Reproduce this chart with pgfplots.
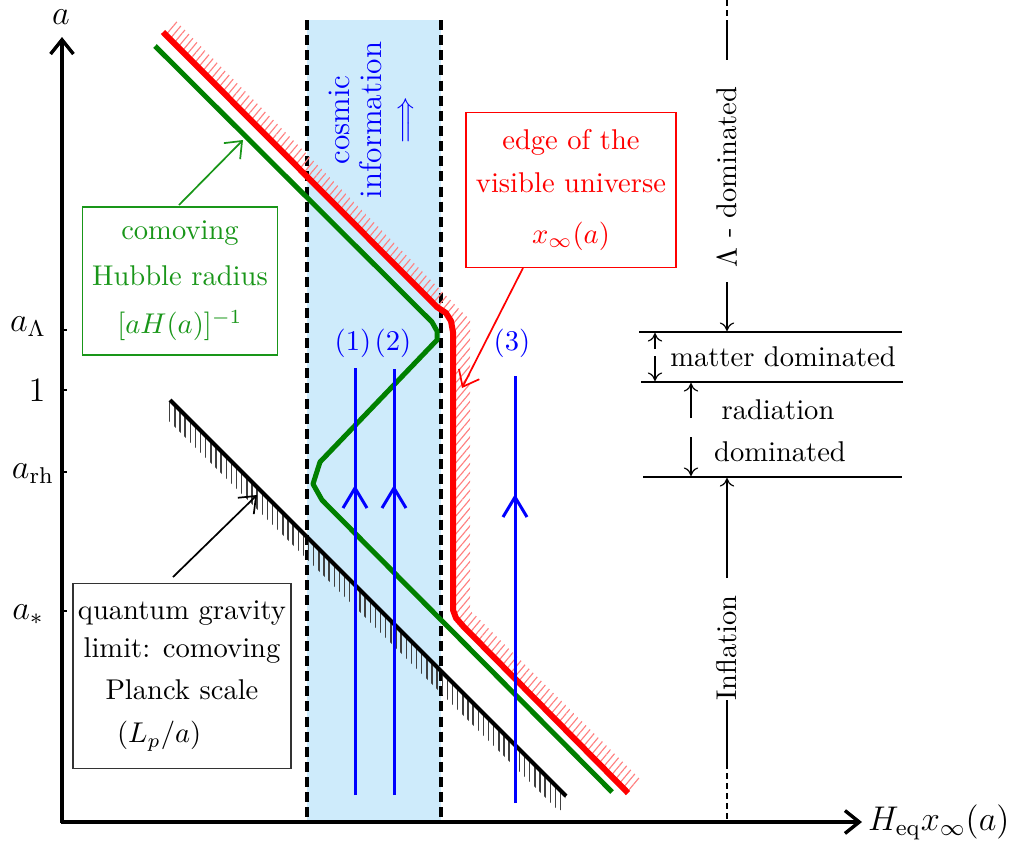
\documentclass[border=0pt]{standalone}
\usepackage{pgfplots}
\pgfplotsset{compat=1.18}
\usetikzlibrary{arrows.meta,patterns.meta}
\definecolor{band}{RGB}{206,235,251}
\definecolor{dkgreen}{RGB}{0,128,0}
\definecolor{ltgreen}{RGB}{25,150,25}
\begin{document}
\begin{tikzpicture}
\begin{axis}[
  scale only axis, width=353.85pt, height=296.1pt,
  xmin=0, xmax=1011, ymin=0, ymax=846, y dir=reverse,
  hide axis, clip=false,
]
% region of cosmic information
\addplot[draw=none, fill=band] coordinates {(307,20) (441,20) (441,822) (307,822)} -- cycle;
\addplot[black, line width=1.4pt, dash pattern=on 3.5pt off 1.8pt] coordinates {(307,20) (307,822)};
\addplot[black, line width=1.4pt, dash pattern=on 3.5pt off 1.8pt] coordinates {(441,20) (441,822)};

% axes
\addplot[black, line width=1.2pt, -{Straight Barb[length=5pt,width=8pt]}] coordinates {(62,823) (62,37)};
\addplot[black, line width=1.2pt, -{Straight Barb[length=5pt,width=8pt]}] coordinates {(61,822) (862,822)};
\node[font=\large, inner sep=1pt] at (61,17) {$a$};
\node[anchor=west, font=\large] at (858,822) {$H_{\mathrm{eq}}x_\infty(a)$};
\foreach \t in {330,390,472,611} {
  \addplot[black, line width=0.5pt] coordinates {(62,\t) (67,\t)};
}
\node[font=\large] at (28,327) {$a_\Lambda$};
\node[font=\large] at (37,390) {$1$};
\node[font=\large] at (33,474) {$a_{\mathrm{rh}}$};
\node[font=\large] at (28,615) {$a_*$};

% hatching
\addplot[draw=none, pattern={Lines[angle=90,distance=1.8pt,line width=0.5pt]}, pattern color=black!75]
  coordinates {(170,400) (566,796) (560,812) (165,417)} -- cycle;
\addplot[draw=none, pattern={Lines[angle=50,distance=2pt,line width=0.4pt]}, pattern color=red!50]
  coordinates {(163,32) (437,307) (446,313) (451,321) (453,332) (453,610) (456,618) (463,626) (628,793)
               (641,780) (470,610) (470,320) (175,20)} -- cycle;

% quantum gravity limit
\addplot[black, line width=1.4pt] coordinates {(170,400) (566,796)};
% comoving Hubble radius
\addplot[dkgreen, line width=1.75pt, line join=round] coordinates {
  (155,46) (432,322) (437,331) (437,340) (320,462) (313,484) (322,500) (612,792)};
% edge of the visible universe
\addplot[red, line width=2.1pt, line join=round] coordinates {
  (163,32) (437,307) (446,313) (451,321) (453,332) (453,610) (456,618) (463,626) (628,793)};

% worldlines
\addplot[blue, line width=1.05pt] coordinates {(355,795) (355,368)};
\addplot[blue, line width=1.05pt] coordinates {(394,795) (394,369)};
\addplot[blue, line width=1.05pt] coordinates {(515,803) (515,376)};
\addplot[blue, line width=1.05pt] coordinates {(343,508) (355,488) (367,508)};
\addplot[blue, line width=1.05pt] coordinates {(382,508) (394,488) (406,508)};
\addplot[blue, line width=1.05pt] coordinates {(503,517) (515,497) (527,517)};
\node[blue] at (353,343) {(1)};
\node[blue] at (393,343) {(2)};
\node[blue] at (512,343) {(3)};
\node[blue, rotate=90, align=center, font=\fontsize{11}{12}\selectfont] at (371,120)
  {cosmic\\[-1pt]information\\[-1pt]{\normalsize$\Longrightarrow$}};

% annotations
\node[draw=ltgreen, text=ltgreen, align=center, minimum width=68.3pt, minimum height=51.8pt, inner sep=1pt]
  at (180,281) {comoving\\[4pt]Hubble radius\\[5pt]$[aH(a)]^{-1}$};
\addplot[ltgreen, line width=0.6pt, -{Straight Barb[length=5pt,width=8pt]}] coordinates {(179,205) (243,140)};
\node[draw=red, text=red, align=center, minimum width=73.5pt, minimum height=54.3pt, inner sep=1pt]
  at (571,190) {edge of the\\[3pt]visible universe\\[6pt]$x_\infty(a)$};
\addplot[red, line width=0.6pt, -{Straight Barb[length=5pt,width=8pt]}] coordinates {(523,268) (462,388)};
\node[draw=black!80, align=center, minimum width=76.3pt, minimum height=64.8pt, inner sep=1pt]
  at (182,676) {quantum gravity\\[1pt]limit: comoving\\[3pt]Planck scale\\[3pt]$(L_p/a)$\hspace*{16pt}};
\addplot[black, line width=0.6pt, -{Straight Barb[length=5pt,width=8pt]}] coordinates {(173,577) (257,495)};

% epochs
\addplot[black, line width=0.4pt, dash pattern=on 2pt off 1.5pt] coordinates {(727,0) (727,23)};
\addplot[black, line width=0.4pt] coordinates {(727,23) (727,60)};
\node[rotate=90] at (727,177) {$\Lambda$ - dominated};
\addplot[black, line width=0.4pt, -{To[length=3pt,width=5pt]}] coordinates {(727,282) (727,331)};
\addplot[black, line width=0.8pt] coordinates {(639,332) (902,332)};
\addplot[black, line width=0.8pt] coordinates {(641,382) (903,382)};
\addplot[black, line width=0.8pt] coordinates {(643,477) (902,477)};
\addplot[black, line width=0.4pt, -{To[length=3pt,width=5pt]}] coordinates {(655,349) (655,333)};
\addplot[black, line width=0.4pt, -{To[length=3pt,width=5pt]}] coordinates {(655,356) (655,381)};
\node at (783,357) {matter dominated};
\addplot[black, line width=0.4pt, -{To[length=3pt,width=5pt]}] coordinates {(691,418) (691,383)};
\addplot[black, line width=0.4pt, -{To[length=3pt,width=5pt]}] coordinates {(691,437) (691,476)};
\node at (778,410) {radiation};
\node at (780,452) {dominated};
\addplot[black, line width=0.4pt, -{To[length=3pt,width=5pt]}] coordinates {(727,578) (727,478)};
\node[rotate=90] at (727,648) {Inflation};
\addplot[black, line width=0.4pt] coordinates {(727,700) (727,763)};
\addplot[black, line width=0.4pt, dash pattern=on 2pt off 1.5pt] coordinates {(727,763) (727,822)};

\coordinate (c1) at (rel axis cs:0,0);
\coordinate (c2) at (rel axis cs:1,1);
\end{axis}
\pgfresetboundingbox
\path[use as bounding box] (c1) rectangle (c2);
\end{tikzpicture}
\end{document}
